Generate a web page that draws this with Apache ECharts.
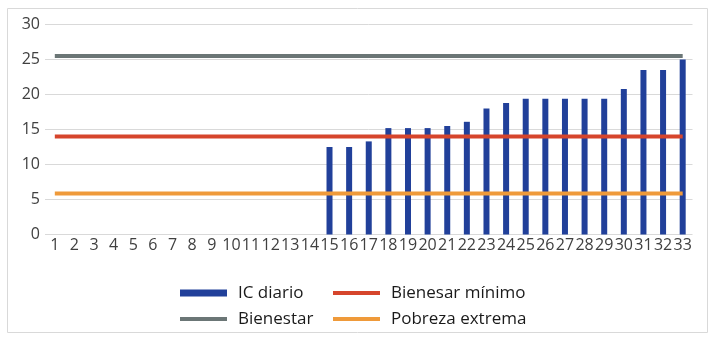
<!DOCTYPE html>
<html>
<head>
<meta charset="utf-8">
<script src="https://cdn.jsdelivr.net/npm/echarts@6/dist/echarts.min.js"></script>
<style>
  html, body { margin: 0; padding: 0; background: #fff; }
  #chart { width: 716px; height: 343px; }
</style>
</head>
<body>
<div id="chart"></div>
<script>
const days = ['1','2','3','4','5','6','7','8','9','10','11','12','13','14','15','16','17',
  '18','19','20','21','22','23','24','25','26','27','28','29','30','31','32','33'];
const icDiario = [0,0,0,0,0,0,0,0,0,0,0,0,0,0,12.5,12.5,13.3,15.2,15.2,15.2,15.5,16.1,
  18.0,18.8,19.4,19.4,19.4,19.4,19.4,20.8,23.5,23.5,25.0];
const bienestar = [25.5,25.5,25.5,25.5,25.5,25.5,25.5,25.5,25.5,25.5,25.5,25.5,25.5,25.5,25.5,25.5,25.5,
  25.5,25.5,25.5,25.5,25.5,25.5,25.5,25.5,25.5,25.5,25.5,25.5,25.5,25.5,25.5,25.5];
const bienesarMinimo = [14,14,14,14,14,14,14,14,14,14,14,14,14,14,14,14,14,
  14,14,14,14,14,14,14,14,14,14,14,14,14,14,14,14];
const pobrezaExtrema = [5.85,5.85,5.85,5.85,5.85,5.85,5.85,5.85,5.85,5.85,5.85,5.85,5.85,5.85,5.85,5.85,5.85,
  5.85,5.85,5.85,5.85,5.85,5.85,5.85,5.85,5.85,5.85,5.85,5.85,5.85,5.85,5.85,5.85];
const yTicks = [0, 30, 5];

const font = '"Open Sans", "Noto Sans", sans-serif';
const chart = echarts.init(document.getElementById('chart'));

// one legend per item so the two rows line up in columns
function legendAt(name, left, top, h) {
  return {
    data: [name],
    left: left,
    top: top,
    icon: 'rect',
    itemWidth: 47,
    itemHeight: h,
    selectedMode: false,
    textStyle: { fontFamily: font, fontSize: 17, color: '#1a1a1a', lineHeight: 18, padding: [0, 0, 0, 6] },
  };
}

chart.setOption({
  animation: false,
  graphic: [{
    type: 'rect',
    shape: { x: 7.5, y: 8.5, width: 700, height: 324 },
    style: { fill: 'none', stroke: '#d9d9d9', lineWidth: 1 },
    silent: true,
  }],
  legend: [
    legendAt('IC diario', 175, 279, 7),
    legendAt('Bienesar mínimo', 328, 279, 4),
    legendAt('Bienestar', 175, 305, 4),
    legendAt('Pobreza extrema', 328, 305, 4),
  ],
  grid: { left: 45, right: 23.5, top: 24.5, bottom: 108.5 },
  xAxis: {
    type: 'category',
    data: days,
    axisLine: { show: false },
    axisTick: { show: false },
    axisLabel: { interval: 0, color: '#404040', fontFamily: font, fontSize: 16, margin: 3 },
  },
  yAxis: {
    type: 'value',
    min: yTicks[0],
    max: yTicks[1],
    interval: yTicks[2],
    axisLine: { show: false },
    axisTick: { show: false },
    axisLabel: { color: '#404040', fontFamily: font, fontSize: 16, margin: 5 },
    splitLine: { lineStyle: { color: '#d9d9d9', width: 1 } },
  },
  series: [
    {
      name: 'IC diario',
      type: 'bar',
      data: icDiario,
      barWidth: 6,
      itemStyle: { color: '#21409a' },
      z: 1,
    },
    {
      name: 'Bienestar',
      type: 'line',
      data: bienestar,
      symbol: 'none',
      lineStyle: { color: '#6b7676', width: 4 },
      itemStyle: { color: '#6b7676' },
      z: 3,
    },
    {
      name: 'Bienesar mínimo',
      type: 'line',
      data: bienesarMinimo,
      symbol: 'none',
      lineStyle: { color: '#d6452c', width: 4 },
      itemStyle: { color: '#d6452c' },
      z: 3,
    },
    {
      name: 'Pobreza extrema',
      type: 'line',
      data: pobrezaExtrema,
      symbol: 'none',
      lineStyle: { color: '#ef9a3a', width: 4 },
      itemStyle: { color: '#ef9a3a' },
      z: 3,
    },
  ],
});
</script>
</body>
</html>
